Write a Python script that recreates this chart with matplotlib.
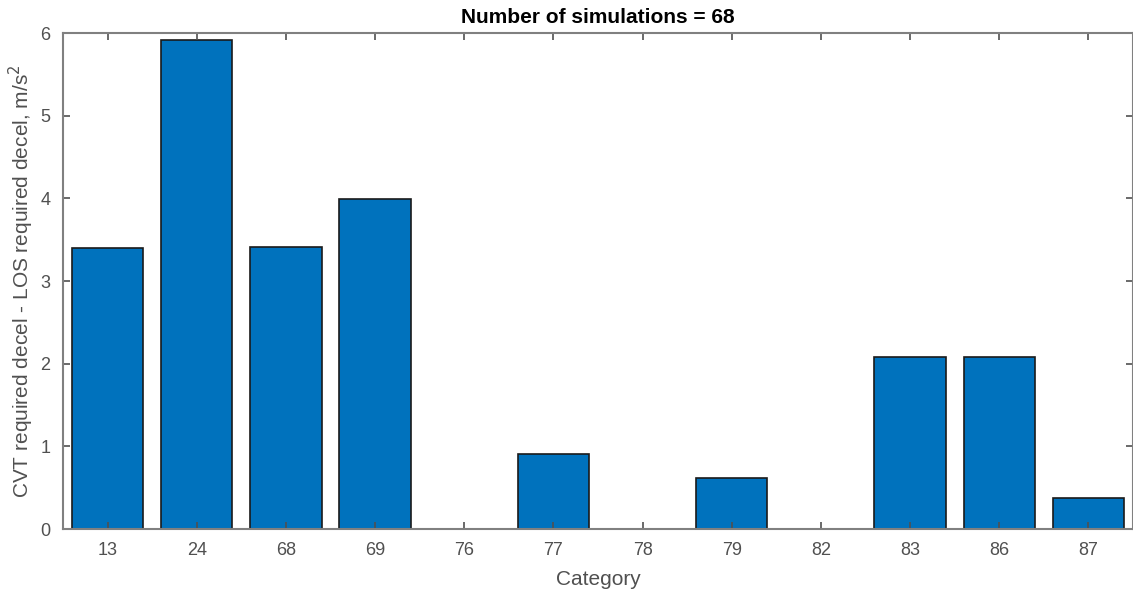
import matplotlib
matplotlib.use('Agg')
from matplotlib import pyplot as plt
import numpy as np

plt.rcParams['font.family'] = ['Liberation Sans', 'DejaVu Sans']

categories = ['13', '24', '68', '69', '76', '77', '78', '79', '82', '83', '86', '87']
diffs = [3.40, 5.91, 3.41, 3.99, 0.0, 0.91, 0.0, 0.62, 0.0, 2.08, 2.08, 0.37]

bar_color = '#0072BD'
axis_color = '#505050'

fig = plt.figure(figsize=(11.33, 5.92), dpi=100)
ax = fig.add_axes([0.0556, 0.1064, 0.9444, 0.8378])

x = np.arange(1, len(categories) + 1)
ax.bar(x, diffs, width=0.8, color=bar_color, edgecolor='#1a1a1a', linewidth=1.2)

ax.set_xlim(0.5, len(categories) + 0.5)
ax.set_ylim(0, 6)
ax.set_xticks(x)
ax.set_xticklabels(categories)
ax.set_yticks(np.arange(0, 7, 1))

ax.tick_params(direction='in', top=True, right=True, length=5, width=1.2,
               colors=axis_color, labelsize=13, pad=9)
for s in ax.spines.values():
    s.set_color('#808080')
    s.set_linewidth(1.5)

ax.set_xlabel('Category', fontsize=15, color=axis_color, labelpad=8)
ax.set_ylabel('CVT required decel - LOS required decel, m/s$^2$', fontsize=15,
              color=axis_color, labelpad=3)
ax.set_title('Number of simulations = 68', fontsize=15, fontweight='bold', pad=7)

fig.savefig('out.png', dpi=100)
